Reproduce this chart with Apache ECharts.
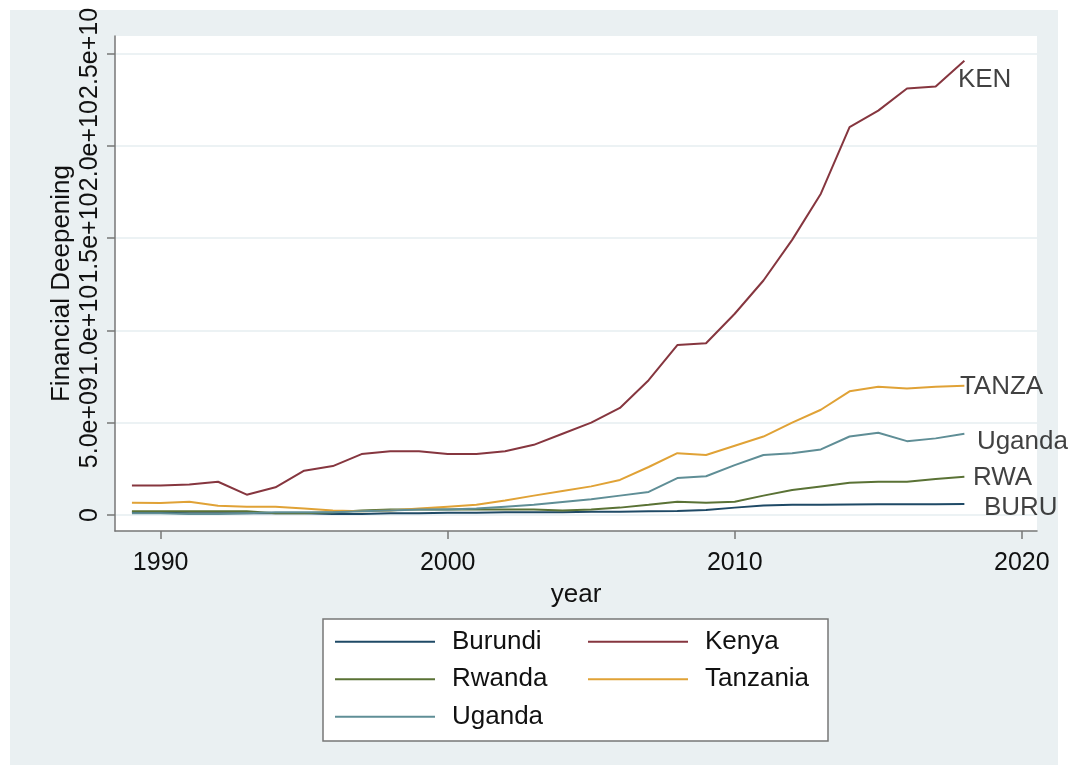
<!DOCTYPE html>
<html><head><meta charset="utf-8">
<script src="https://cdn.jsdelivr.net/npm/echarts@6/dist/echarts.min.js"></script>
<style>html,body{margin:0;padding:0;background:#fff}#c{width:1072px;height:775px}</style>
</head><body><div id="c"></div>
<script>
const years = [1989,1990,1991,1992,1993,1994,1995,1996,1997,1998,1999,2000,2001,2002,2003,2004,2005,2006,2007,2008,2009,2010,2011,2012,2013,2014,2015,2016,2017,2018];
const burundi = [0.15e9,0.12e9,0.1e9,0.1e9,0.1e9,0.1e9,0.1e9,0.05e9,0.05e9,0.1e9,0.1e9,0.12e9,0.12e9,0.15e9,0.15e9,0.15e9,0.18e9,0.18e9,0.2e9,0.22e9,0.27e9,0.4e9,0.52e9,0.55e9,0.55e9,0.57e9,0.58e9,0.58e9,0.58e9,0.6e9];
const kenya = [1.6e9,1.6e9,1.65e9,1.8e9,1.1e9,1.5e9,2.4e9,2.65e9,3.3e9,3.45e9,3.45e9,3.3e9,3.3e9,3.45e9,3.8e9,4.4e9,5.0e9,5.8e9,7.3e9,9.2e9,9.3e9,10.9e9,12.7e9,14.9e9,17.4e9,21.0e9,21.9e9,23.1e9,23.2e9,24.6e9];
const rwanda = [0.2e9,0.2e9,0.2e9,0.2e9,0.2e9,0.1e9,0.1e9,0.15e9,0.25e9,0.3e9,0.3e9,0.3e9,0.3e9,0.3e9,0.3e9,0.25e9,0.3e9,0.4e9,0.55e9,0.72e9,0.67e9,0.72e9,1.05e9,1.35e9,1.55e9,1.75e9,1.8e9,1.8e9,1.95e9,2.07e9];
const tanzania = [0.67e9,0.65e9,0.72e9,0.5e9,0.45e9,0.45e9,0.35e9,0.25e9,0.2e9,0.25e9,0.35e9,0.45e9,0.55e9,0.78e9,1.05e9,1.3e9,1.55e9,1.9e9,2.6e9,3.35e9,3.25e9,3.75e9,4.25e9,5.0e9,5.7e9,6.7e9,6.95e9,6.85e9,6.95e9,7.0e9];
const uganda = [0.1e9,0.1e9,0.05e9,0.05e9,0.1e9,0.15e9,0.15e9,0.15e9,0.2e9,0.25e9,0.3e9,0.3e9,0.35e9,0.45e9,0.55e9,0.7e9,0.85e9,1.05e9,1.25e9,2.0e9,2.1e9,2.7e9,3.25e9,3.35e9,3.55e9,4.25e9,4.45e9,4.0e9,4.15e9,4.4e9];
const seriesNames = ['Burundi','Kenya','Rwanda','Tanzania','Uganda'];
const endLabelTexts = ['BURU','KEN','RWA','TANZA','Uganda'];
const xTickValues = [1990,2000,2010,2020];
const yTickValues = [0,5e9,1e10,1.5e10,2e10,2.5e10];
const yTickLabels = ['0','5.0e+09','1.0e+10','1.5e+10','2.0e+10','2.5e+10'];

const seriesValues = [burundi,kenya,rwanda,tanzania,uganda];
const colors = ['#1f4a66','#86363f','#5a7235','#e0a236','#5f8e96'];
const labelOffsets = [[14,4],[-12,19],[3,1],[-10,1],[7,8]];
const FONT = "'Liberation Sans', Arial, sans-serif";

const series = [];
seriesNames.forEach((name,i)=>{
  series.push({
    name: name, type:'line', symbol:'none', showSymbol:false,
    data: years.map((y,k)=>[y, seriesValues[i][k]]),
    lineStyle:{color:colors[i], width:2},
    itemStyle:{color:colors[i]},
    z: 3
  });
});
seriesNames.forEach((name,i)=>{
  const last = years.length-1;
  series.push({
    name: name+'_lbl', type:'scatter', symbolSize:1, itemStyle:{color:'rgba(0,0,0,0)'},
    silent:true, legendHoverLink:false,
    data:[[years[last], seriesValues[i][last]]],
    label:{show:true, position:'right', distance:5, offset:labelOffsets[i],
      formatter: endLabelTexts[i], color:'#111', fontSize:26, fontFamily:FONT},
    z: 4
  });
});

const chart = echarts.init(document.getElementById('c'), null, {renderer:'canvas'});
chart.setOption({
  backgroundColor:'#ffffff',
  animation:false,
  graphic:[
    {type:'rect', z:-10, shape:{x:10,y:10,width:1048,height:755}, style:{fill:'#eaf0f2'}},
    {type:'rect', z:1, shape:{x:323,y:619,width:505,height:122}, style:{fill:'#ffffff', stroke:'#777', lineWidth:1.5}}
  ],
  grid:{left:115, right:35, top:36, bottom:244, show:true, backgroundColor:'#ffffff', borderWidth:0, containLabel:false},
  xAxis:{
    type:'value', min:1988.41, max:2020.53,
    name:'year', nameLocation:'middle', nameGap:51, nameMoveOverlap:false,
    nameTextStyle:{fontSize:26, color:'#111', fontFamily:FONT},
    axisLine:{show:true, onZero:false, lineStyle:{color:'#777', width:1.5}},
    axisTick:{show:true, length:8, customValues:xTickValues, lineStyle:{color:'#777', width:1.5}},
    axisLabel:{customValues:xTickValues, margin:20, fontSize:25, color:'#111', fontFamily:FONT, formatter:v=>String(v)},
    splitLine:{show:false}
  },
  yAxis:{
    type:'value', min:-0.866e9, max:25.94e9,
    name:'Financial Deepening', nameLocation:'middle', nameGap:40, nameRotate:90, nameMoveOverlap:false,
    nameTextStyle:{fontSize:26, color:'#111', fontFamily:FONT},
    axisLine:{show:true, onZero:false, lineStyle:{color:'#777', width:1.5}},
    axisTick:{show:true, length:8, customValues:yTickValues, lineStyle:{color:'#777', width:1.5}},
    axisLabel:{customValues:yTickValues, rotate:90, margin:12, fontSize:25, color:'#111', fontFamily:FONT, hideOverlap:false,
      showMinLabel:true, showMaxLabel:true,
      formatter:v=>{const i=yTickValues.indexOf(v); return i>=0?yTickLabels[i]:'';}},
    splitLine:{show:true, lineStyle:{color:'#e6eef1', width:1.5}}
  },
  legend:{
    data: seriesNames,
    left:335, top:623, padding:0, itemGap:0, itemWidth:100, itemHeight:14, width:520,
    icon:'path://M0,6 L100,6 L100,8 L0,8 Z',
    textStyle:{fontSize:26, color:'#111', fontFamily:FONT, width:136, lineHeight:37.5, padding:[0,0,0,12]},
    z:5
  },
  series: series
});
</script></body></html>
